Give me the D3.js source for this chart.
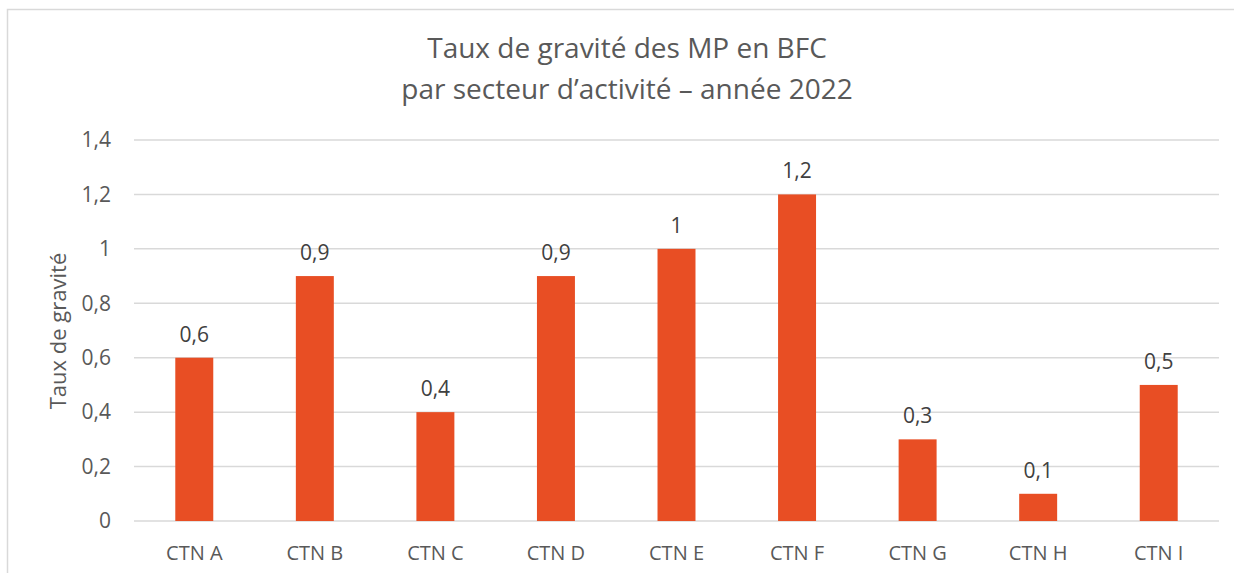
<!DOCTYPE html>
<html>
<head>
<meta charset="utf-8">
<script src="https://cdn.jsdelivr.net/npm/d3@7"></script>
<style>
  body { margin: 0; background: #fff; }
  svg { display: block; font-family: "Open Sans", "Noto Sans", sans-serif; }
</style>
</head>
<body>
<div class="chart"></div>
<script>
const categories = ['CTN A', 'CTN B', 'CTN C', 'CTN D', 'CTN E', 'CTN F', 'CTN G', 'CTN H', 'CTN I'];
const values = [0.6, 0.9, 0.4, 0.9, 1, 1.2, 0.3, 0.1, 0.5];
const yTicks = [0, 0.2, 0.4, 0.6, 0.8, 1, 1.2, 1.4];
const titleLines = ['Taux de gravité des MP en BFC', 'par secteur d\u2019activité \u2013 année 2022'];
const yTitle = 'Taux de gravité';

const W = 1234, H = 573;
const margin = {top: 140, right: 15, bottom: 52, left: 134};
const width = 1219 - margin.left;
const height = 521 - margin.top;
const textColor = '#595959';
const fmt = v => String(v).replace('.', ',');

const svg = d3.select('.chart')
  .append('svg')
    .attr('width', W)
    .attr('height', H);

// chart frame (right and bottom edges fall outside the picture)
svg.append('rect')
  .attr('x', 7.5).attr('y', 9.5)
  .attr('width', W + 10).attr('height', H + 10)
  .attr('fill', 'none')
  .attr('stroke', '#d9d9d9')
  .attr('stroke-width', 1.5);

svg.selectAll('text.title')
  .data(titleLines)
  .enter()
  .append('text')
    .attr('class', 'title')
    .attr('x', 627)
    .attr('y', (d, i) => 58 + i * 41)
    .attr('text-anchor', 'middle')
    .attr('font-size', '28px')
    .attr('fill', textColor)
    .text(d => d);

const g = svg.append('g')
  .attr('transform', `translate(${margin.left}, ${margin.top})`);

const x = d3.scaleBand()
  .domain(categories)
  .range([0, width])
  .paddingInner(0.685)
  .paddingOuter(0.3425);

const y = d3.scaleLinear()
  .domain([0, 1.4])
  .range([height, 0]);

// gridlines
g.selectAll('line.grid')
  .data(yTicks)
  .enter()
  .append('line')
    .attr('x1', 0).attr('x2', width)
    .attr('y1', d => y(d)).attr('y2', d => y(d))
    .attr('stroke', '#d9d9d9')
    .attr('stroke-width', 1.5);

const yAxis = g.append('g')
  .call(d3.axisLeft(y).tickValues(yTicks).tickFormat(fmt).tickSize(0).tickPadding(23));
yAxis.select('.domain').remove();
yAxis.selectAll('text')
  .attr('font-size', '21px')
  .attr('font-family', '"Open Sans", sans-serif')
  .attr('fill', textColor);

const xAxis = g.append('g')
  .attr('transform', `translate(0, ${height})`)
  .call(d3.axisBottom(x).tickSize(0).tickPadding(25));
xAxis.select('.domain').remove();
xAxis.selectAll('text')
  .attr('font-size', '20px')
  .attr('font-family', '"Open Sans", sans-serif')
  .attr('fill', textColor);

g.selectAll('rect.bar')
  .data(values)
  .enter()
  .append('rect')
    .attr('class', 'bar')
    .attr('x', (d, i) => x(categories[i]))
    .attr('y', d => y(d))
    .attr('width', x.bandwidth())
    .attr('height', d => height - y(d))
    .attr('fill', '#e84e24');

g.selectAll('text.label')
  .data(values)
  .enter()
  .append('text')
    .attr('class', 'label')
    .attr('x', (d, i) => x(categories[i]) + x.bandwidth() / 2)
    .attr('y', d => y(d) - 16)
    .attr('text-anchor', 'middle')
    .attr('font-size', '21px')
    .attr('fill', '#404040')
    .text(fmt);

svg.append('text')
  .attr('transform', `translate(66, 331) rotate(-90)`)
  .attr('text-anchor', 'middle')
  .attr('font-size', '22px')
  .attr('fill', textColor)
  .text(yTitle);
</script>
</body>
</html>
